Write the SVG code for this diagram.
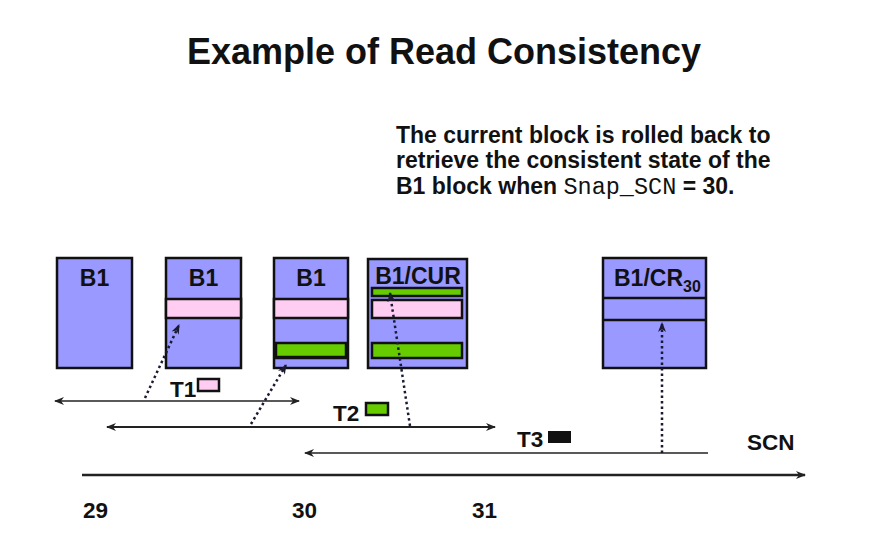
<svg xmlns="http://www.w3.org/2000/svg" width="892" height="553" viewBox="0 0 892 553">
<style>
.box{fill:#9999ff;stroke:#111;stroke-width:2.5}
.pink{fill:#ffccf2;stroke:#111;stroke-width:2.5}
.green{fill:#66cc00;stroke:#111;stroke-width:2.5}
.lbl{font-family:"Liberation Sans",Arial,sans-serif;font-weight:bold;font-size:23px;fill:#111}
.t{font-family:"Liberation Sans",Arial,sans-serif;font-weight:bold;font-size:22.5px;fill:#111}
.dot{stroke:#1a1a33;stroke-width:2.5;stroke-dasharray:2.5,3;fill:none}
.ln{stroke:#222;fill:none}
</style>
<defs>
<marker id="ah" markerWidth="10" markerHeight="8" refX="9" refY="4" orient="auto-start-reverse" markerUnits="userSpaceOnUse"><path d="M0,0 L10,4 L0,8 L3,4 Z" fill="#222"/></marker>
<marker id="ah2" markerWidth="10" markerHeight="10" refX="9" refY="5" orient="auto" markerUnits="userSpaceOnUse"><path d="M0,1 L10,5 L0,9 L3,5 Z" fill="#1a1a33"/></marker>
</defs>
<rect width="892" height="553" fill="#fff"/>
<text x="444" y="64" text-anchor="middle" font-family="Liberation Sans,Arial,sans-serif" font-weight="bold" font-size="36" fill="#111">Example of Read Consistency</text>
<g id="note" font-family="Liberation Sans,Arial,sans-serif" font-weight="bold" font-size="23" fill="#111">
<text x="396" y="143">The current block is rolled back to</text>
<text x="396" y="168">retrieve the consistent state of the</text>
<text x="396" y="194">B1 block when <tspan font-family="Liberation Mono,Courier New,monospace" font-weight="normal" font-size="23.5">Snap_SCN</tspan> = 30.</text>
</g>
<g id="block1"><rect class="box" x="57" y="258" width="75" height="110"/><text class="lbl" x="94.5" y="286" text-anchor="middle">B1</text></g>
<g id="block2"><rect class="box" x="166" y="258" width="75" height="110"/><rect class="pink" x="166" y="299" width="75" height="19"/><text class="lbl" x="203.5" y="286" text-anchor="middle">B1</text></g>
<g id="block3"><rect class="box" x="274" y="258" width="74" height="110"/><rect class="pink" x="274" y="299" width="74" height="19"/><rect class="green" x="276" y="343" width="70" height="14"/><line x1="274" y1="358" x2="348" y2="358" stroke="#111" stroke-width="2.5"/><text class="lbl" x="311" y="286" text-anchor="middle">B1</text></g>
<g id="block4"><rect class="box" x="368" y="259" width="99" height="109"/><rect class="green" x="372" y="288" width="90" height="8"/><rect class="pink" x="372" y="300" width="90" height="18"/><rect class="green" x="372" y="343" width="90" height="15"/><text class="lbl" x="418" y="284" text-anchor="middle">B1/CUR</text></g>
<g id="block5"><rect class="box" x="603" y="258" width="103" height="110"/><line x1="603" y1="298" x2="706" y2="298" stroke="#111" stroke-width="2.5"/><line x1="603" y1="320" x2="706" y2="320" stroke="#111" stroke-width="2.5"/><text class="lbl" x="614" y="286">B1/CR<tspan font-size="16" dy="6">30</tspan></text></g>
<g id="T1"><text class="t" x="170" y="397">T1</text><rect class="pink" x="198" y="379" width="21" height="12" stroke-width="2"/></g>
<g id="T2"><text class="t" x="333" y="421">T2</text><rect class="green" x="366" y="403" width="22" height="12" stroke-width="2"/></g>
<g id="T3"><text class="t" x="517" y="447">T3</text><rect x="548" y="431" width="23" height="12" fill="#111"/></g>
<g id="scn"><text class="t" x="747" y="450">SCN</text></g>
<g id="axis-labels" font-family="Liberation Sans,Arial,sans-serif" font-weight="bold" font-size="22.5" fill="#111">
<text x="83" y="518">29</text><text x="292" y="518">30</text><text x="472" y="518">31</text>
</g>
<g id="connectors">
<line class="ln" x1="55" y1="401" x2="299" y2="401" stroke-width="1.5" marker-start="url(#ah)" marker-end="url(#ah)"/>
<line class="ln" x1="107" y1="427" x2="495" y2="427" stroke-width="2.2" marker-start="url(#ah)" marker-end="url(#ah)"/>
<line class="ln" x1="305" y1="453" x2="708" y2="453" stroke-width="1.5" marker-start="url(#ah)"/>
<line class="ln" x1="82" y1="475" x2="805" y2="475" stroke-width="2.5" marker-end="url(#ah)"/>
<line class="dot" x1="145" y1="398" x2="179" y2="325" marker-end="url(#ah2)"/>
<line class="dot" x1="251" y1="424" x2="286" y2="365" marker-end="url(#ah2)"/>
<line class="dot" x1="410" y1="426" x2="390" y2="293" marker-end="url(#ah2)"/>
<line class="dot" x1="662" y1="453" x2="662" y2="323" marker-end="url(#ah2)"/>
</g>
</svg>
